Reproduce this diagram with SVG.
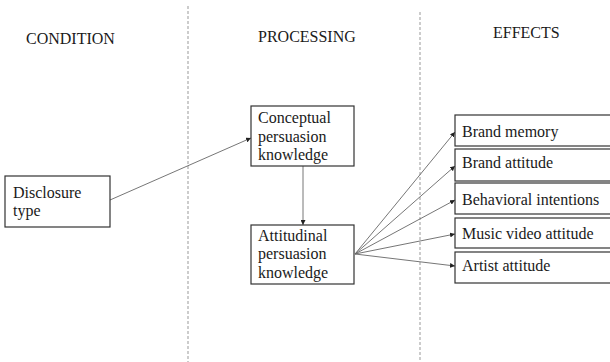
<svg xmlns="http://www.w3.org/2000/svg" width="610" height="362" viewBox="0 0 610 362">
<style>
text{font-family:"Liberation Serif","Times New Roman",serif;font-size:16px;fill:#1a1a1a}
.box{fill:#fff;stroke:#333;stroke-width:1.2}
.div{stroke:#999;stroke-width:1;stroke-dasharray:3,2;fill:none}
.con{stroke:#666;stroke-width:0.9;fill:none;marker-end:url(#ah)}
</style>
<defs>
<marker id="ah" viewBox="0 0 10 10" refX="10" refY="5" markerWidth="5" markerHeight="5" markerUnits="userSpaceOnUse" orient="auto">
<path d="M0,0 L10,5 L0,10 z" fill="#222"/>
</marker>
</defs>
<rect width="610" height="362" fill="#fff"/>
<g id="dividers">
<line class="div" x1="188" y1="6" x2="188" y2="362"/>
<line class="div" x1="420" y1="12" x2="420" y2="362"/>
</g>
<g id="headers">
<text x="26" y="44">CONDITION</text>
<text x="258" y="42">PROCESSING</text>
<text x="493" y="38">EFFECTS</text>
</g>
<g id="connectors">
<line class="con" x1="110" y1="200" x2="251" y2="138"/>
<line class="con" x1="303" y1="166" x2="303" y2="225"/>
<line class="con" x1="355" y1="254" x2="455" y2="132"/>
<line class="con" x1="355" y1="254" x2="455" y2="166"/>
<line class="con" x1="355" y1="254" x2="455" y2="200"/>
<line class="con" x1="355" y1="254" x2="455" y2="234"/>
<line class="con" x1="355" y1="254" x2="455" y2="266"/>
</g>
<g id="disclosure">
<rect class="box" x="5" y="176" width="105" height="51"/>
<text x="13" y="198">Disclosure</text>
<text x="13" y="216">type</text>
</g>
<g id="conceptual">
<rect class="box" x="251" y="106" width="103" height="60"/>
<text x="258" y="123">Conceptual</text>
<text x="258" y="142">persuasion</text>
<text x="258" y="160">knowledge</text>
</g>
<g id="attitudinal">
<rect class="box" x="251" y="225" width="103" height="59"/>
<text x="258" y="241">Attitudinal</text>
<text x="258" y="259">persuasion</text>
<text x="258" y="278">knowledge</text>
</g>
<g id="brand-memory">
<rect class="box" x="455" y="115" width="160" height="31"/>
<text x="462" y="137">Brand memory</text>
</g>
<g id="brand-attitude">
<rect class="box" x="455" y="149" width="160" height="32"/>
<text x="462" y="168">Brand attitude</text>
</g>
<g id="behavioral-intentions">
<rect class="box" x="455" y="183" width="160" height="31"/>
<text x="462" y="205">Behavioral intentions</text>
</g>
<g id="music-video-attitude">
<rect class="box" x="455" y="218" width="160" height="30"/>
<text x="462" y="239">Music video attitude</text>
</g>
<g id="artist-attitude">
<rect class="box" x="455" y="252" width="160" height="31"/>
<text x="462" y="271">Artist attitude</text>
</g>
</svg>
